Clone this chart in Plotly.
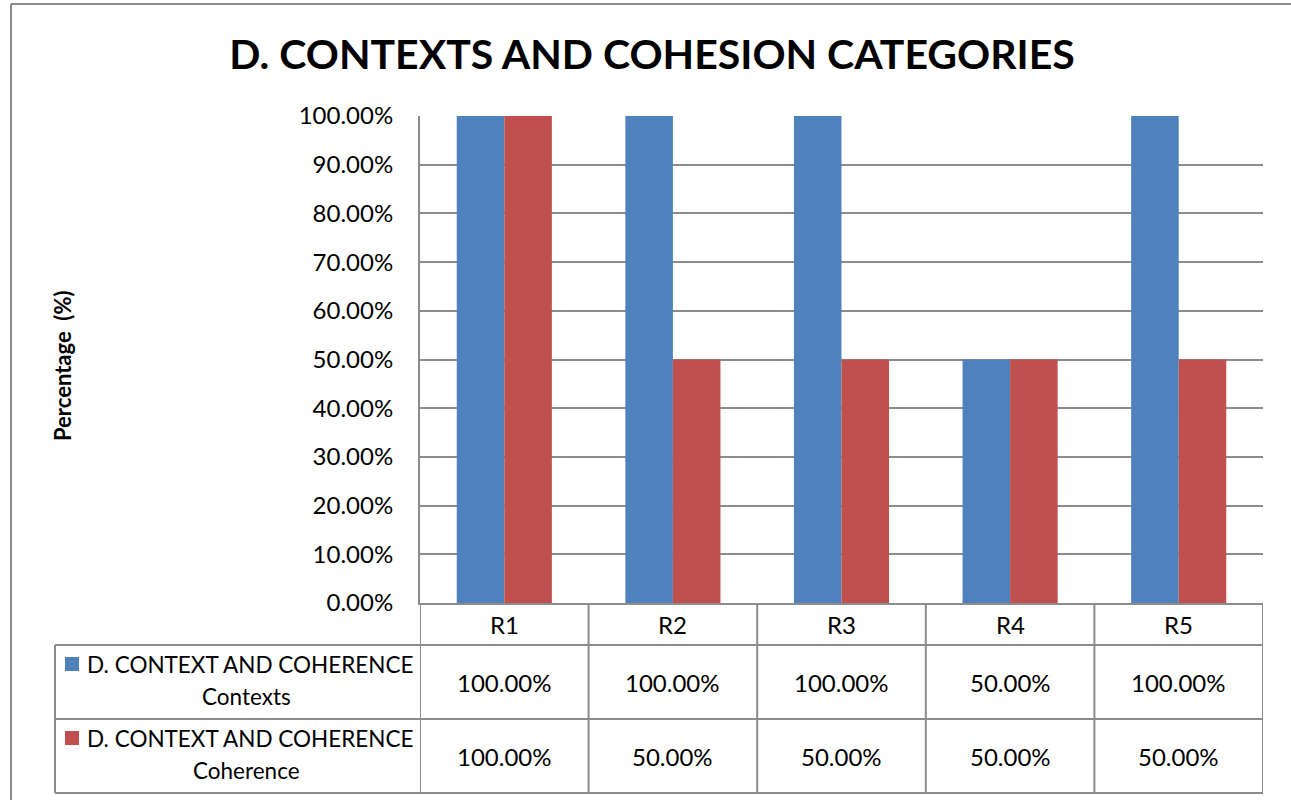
import plotly.graph_objects as go

categories = ["R1", "R2", "R3", "R4", "R5"]
contexts = [1.0, 1.0, 1.0, 0.5, 1.0]
coherence = [1.0, 0.5, 0.5, 0.5, 0.5]
series_names = [("D. CONTEXT AND COHERENCE", "Contexts"),
                ("D. CONTEXT AND COHERENCE", "Coherence")]
colors = ["#4F81BD", "#C0504D"]
title = "D. CONTEXTS AND COHESION CATEGORIES"
ytitle = "Percentage  (%)"

W, H = 1291, 800
FONT = "Lato, Carlito, Calibri, sans-serif"
GRAY = "#8C8C8C"


def px(x):
    return x / W


def py(y):
    return 1 - y / H


fig = go.Figure()
for vals, (l1, l2), c in zip([contexts, coherence], series_names, colors):
    fig.add_trace(go.Bar(x=categories, y=vals, name=f"{l1} {l2}",
                         marker=dict(color=c, line=dict(width=0))))

plot_x0, plot_x1 = 420, 1263
plot_y0, plot_y1 = 116, 603
row_hdr = 645
row1 = 719
row2 = 793
leg_x0 = 55

fig.update_layout(
    width=W, height=H, autosize=False,
    margin=dict(l=0, r=0, t=0, b=0, autoexpand=False),
    paper_bgcolor="white", plot_bgcolor="white",
    barmode="group", bargap=0.436, bargroupgap=0,
    showlegend=False,
    font=dict(family=FONT, color="black", size=24),
    title=dict(text=title, x=652 / W, xanchor="center", y=py(55), yanchor="middle",
               font=dict(family=FONT, size=41, color="black", weight="bold")),
    xaxis=dict(domain=[px(plot_x0), px(plot_x1)], range=[-0.5, 4.5], automargin=False,
               showticklabels=False, showgrid=False, zeroline=False,
               showline=True, linecolor=GRAY, linewidth=2, ticks=""),
    yaxis=dict(domain=[py(plot_y1), py(plot_y0)], range=[0, 1], dtick=0.1, automargin=False,
               tickformat=".2%", showgrid=True, gridcolor=GRAY, gridwidth=1.5,
               zeroline=False, showline=True, linecolor=GRAY, linewidth=2,
               ticks="", ticklabelstandoff=20,
               tickfont=dict(family=FONT, size=24, color="black")),
)

shapes = []
line = dict(color=GRAY, width=2)
# frame
shapes.append(dict(type="line", xref="paper", yref="paper", x0=px(11), x1=px(11),
                   y0=py(4), y1=py(800), line=line))
shapes.append(dict(type="line", xref="paper", yref="paper", x0=px(11), x1=1,
                   y0=py(4), y1=py(4), line=line))
# table horizontals
for yy in [row_hdr, row1, row2]:
    shapes.append(dict(type="line", xref="paper", yref="paper", x0=px(leg_x0), x1=px(plot_x1),
                       y0=py(yy), y1=py(yy), line=line))
shapes.append(dict(type="line", xref="paper", yref="paper", x0=px(leg_x0), x1=px(leg_x0),
                   y0=py(row_hdr), y1=py(row2), line=line))
# table verticals at category boundaries
for i in range(len(categories) + 1):
    shapes.append(dict(type="line", xref="x", yref="paper", x0=i - 0.5, x1=i - 0.5,
                       y0=py(plot_y1), y1=py(row2), line=line))
# legend keys
key_y = [(row_hdr + row1) / 2 - 18, (row1 + row2) / 2 - 18]
for c, ky in zip(colors, key_y):
    shapes.append(dict(type="rect", xref="paper", yref="paper",
                       x0=px(65), x1=px(79), y0=py(ky - 7), y1=py(ky + 7),
                       fillcolor=c, line=dict(width=0)))
fig.update_layout(shapes=shapes)

ann = []
for i, cat in enumerate(categories):
    ann.append(dict(x=cat, xref="x", y=py((plot_y1 + row_hdr) / 2), yref="paper",
                    text=cat, showarrow=False, xanchor="center", yanchor="middle",
                    font=dict(size=24)))
    for vals, (ya, yb) in zip([contexts, coherence], [(row_hdr, row1), (row1, row2)]):
        ann.append(dict(x=cat, xref="x", y=py((ya + yb) / 2), yref="paper",
                        text=f"{vals[i] * 100:.2f}%", showarrow=False,
                        xanchor="center", yanchor="middle", font=dict(size=24)))
for (l1, l2), (ya, yb) in zip(series_names, [(row_hdr, row1), (row1, row2)]):
    mid = (ya + yb) / 2
    ann.append(dict(x=px(250), xref="paper", y=py(mid - 18), yref="paper", text=l1,
                    showarrow=False, xanchor="center", yanchor="middle", font=dict(size=22.5)))
    ann.append(dict(x=px(246), xref="paper", y=py(mid + 14), yref="paper", text=l2,
                    showarrow=False, xanchor="center", yanchor="middle", font=dict(size=22.5)))
ann.append(dict(x=px(62), xref="paper", y=py(366), yref="paper", text=ytitle,
                textangle=-90, showarrow=False, xanchor="center", yanchor="middle",
                font=dict(size=22, weight="bold")))
fig.update_layout(annotations=ann)

fig.write_html("out.html", config={"displayModeBar": False},
               post_script="document.body.style.margin='0px';")
